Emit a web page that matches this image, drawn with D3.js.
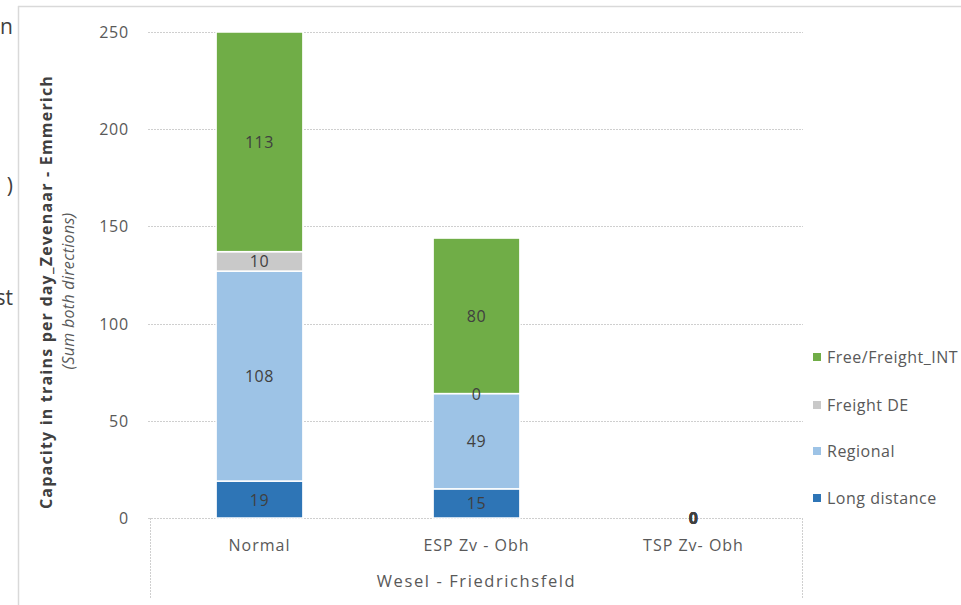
<!DOCTYPE html>
<html lang="en">
<head>
    <meta charset="UTF-8">
    <title>Capacity in trains per day</title>
    <script src="https://d3js.org/d3.v7.min.js"></script>
    <style>
        body { margin: 0; background: #fff; font-family: "Open Sans", sans-serif; }
        svg { display: block; }
    </style>
</head>
<body>
    <svg id="chart" width="961" height="605"></svg>
    <script>
        // Data
        const categories = ["Normal", "ESP Zv - Obh", "TSP Zv- Obh"];
        const seriesNames = ["Long distance", "Regional", "Freight DE", "Free/Freight_INT"];
        const longDistance = [19, 15, 0];
        const regional = [108, 49, 0];
        const freightDE = [10, 0, 0];
        const freightINT = [113, 80, 0];
        const yTicks = [0, 50, 100, 150, 200, 250];
        const groupLabel = "Wesel - Friedrichsfeld";

        const colors = ["#2E75B6", "#9DC3E6", "#C9C9C9", "#70AD47"];
        const values = [longDistance, regional, freightDE, freightINT];

        const rows = categories.map((c, i) => {
            const r = { cat: c };
            seriesNames.forEach((s, j) => r[s] = values[j][i]);
            return r;
        });

        const svg = d3.select("#chart");

        // outer frame of the chart object (cut at the right)
        svg.append("line").attr("x1", 18.5).attr("x2", 18.5).attr("y1", 6).attr("y2", 605)
            .style("stroke", "#d9d9d9").style("stroke-width", 1.5);
        svg.append("line").attr("x1", 18).attr("x2", 961).attr("y1", 6.5).attr("y2", 6.5)
            .style("stroke", "#d9d9d9").style("stroke-width", 1.5);

        // bits of slide text sticking in from the left (cut in the original too)
        const leftBits = [["n", 34], [")", 193], ["st", 305]];
        leftBits.forEach(b => {
            svg.append("text").text(b[0]).attr("x", 13).attr("y", b[1])
                .style("text-anchor", "end").style("font-size", "21px").style("fill", "#404040");
        });

        const x = d3.scaleBand().domain(categories).range([151, 802])
            .paddingInner(0.6).paddingOuter(0.3);
        const y = d3.scaleLinear().domain([0, 250]).range([518, 32]);

        // gridlines
        svg.append("g").selectAll("line").data(yTicks).join("line")
            .attr("x1", 148).attr("x2", 803)
            .attr("y1", d => Math.round(y(d)) + 0.5).attr("y2", d => Math.round(y(d)) + 0.5)
            .style("stroke", "#cfcfcf").style("stroke-dasharray", "2,1");

        // y tick labels
        svg.append("g").selectAll("text").data(yTicks).join("text")
            .text(d => d)
            .attr("x", 129).attr("y", d => y(d) + 6)
            .style("text-anchor", "end").style("font-size", "16px")
            .style("letter-spacing", "0.8px").style("fill", "#595959");

        // category axis frame lines
        [150, 802].forEach(px => {
            svg.append("line").attr("x1", px + 0.5).attr("x2", px + 0.5)
                .attr("y1", 518).attr("y2", 598)
                .style("stroke", "#cfcfcf").style("stroke-dasharray", "2,1");
        });

        const stack = d3.stack().keys(seriesNames)(rows);

        const layers = svg.append("g").selectAll("g").data(stack).join("g")
            .style("fill", (d, i) => colors[i]);

        layers.selectAll("rect").data(d => d).join("rect")
            .attr("x", d => x(d.data.cat))
            .attr("width", x.bandwidth())
            .attr("y", d => y(d[1]))
            .attr("height", d => y(d[0]) - y(d[1]))
            .style("stroke", "#fff").style("stroke-width", 1.5)
            .style("display", d => d[1] - d[0] > 0 ? null : "none");

        // segment labels
        stack.forEach(layer => {
            svg.append("g").selectAll("text").data(layer).join("text")
                .text(d => d[1] - d[0])
                .attr("x", d => x(d.data.cat) + x.bandwidth() / 2)
                .attr("y", d => y((d[0] + d[1]) / 2) + 6)
                .style("text-anchor", "middle").style("font-size", "16px")
                .style("letter-spacing", "0.6px")
                .style("fill", "#404040")
                .style("font-weight", d => d.data.cat === "TSP Zv- Obh" ? "bold" : null);
        });

        // category labels
        svg.append("g").selectAll("text").data(categories).join("text")
            .text(d => d)
            .attr("x", d => x(d) + x.bandwidth() / 2).attr("y", 551)
            .style("text-anchor", "middle").style("font-size", "16px")
            .style("letter-spacing", "1px").style("fill", "#595959");

        svg.append("text").text(groupLabel)
            .attr("x", x(categories[1]) + x.bandwidth() / 2).attr("y", 587)
            .style("text-anchor", "middle").style("font-size", "16.5px")
            .style("letter-spacing", "1.6px").style("fill", "#595959");

        // y axis title
        svg.append("text").text("Capacity in trains per day_Zevenaar - Emmerich")
            .attr("transform", "translate(52,292) rotate(-90)")
            .style("text-anchor", "middle").style("font-size", "16px")
            .style("letter-spacing", "1.2px")
            .style("font-weight", "bold").style("fill", "#404040");
        svg.append("text").text("(Sum both directions)")
            .attr("transform", "translate(74,291) rotate(-90)")
            .style("text-anchor", "middle").style("font-size", "16px")
            .style("letter-spacing", "0.3px")
            .style("font-style", "italic").style("fill", "#595959");

        // legend, top to bottom
        const legendY = [357, 405, 451, 498];
        const legendOrder = seriesNames.slice().reverse();
        const legend = svg.append("g").selectAll("g").data(legendOrder).join("g")
            .attr("transform", (d, i) => `translate(813,${legendY[i]})`);
        legend.append("rect").attr("x", 0).attr("y", -4).attr("width", 8).attr("height", 8)
            .style("fill", d => colors[seriesNames.indexOf(d)]);
        legend.append("text").text(d => d).attr("x", 14).attr("y", 6)
            .style("font-size", "16px").style("letter-spacing", "0.5px").style("fill", "#595959");
    </script>
</body>
</html>
